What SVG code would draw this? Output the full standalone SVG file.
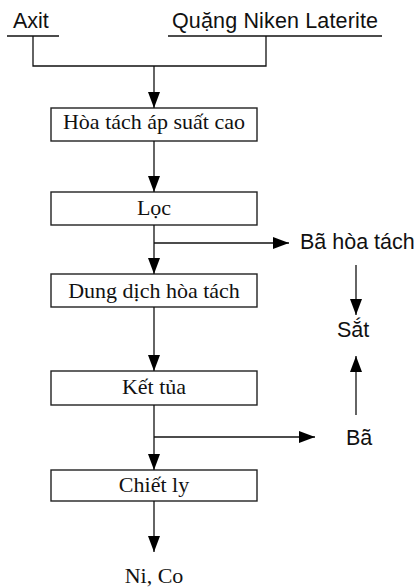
<svg xmlns="http://www.w3.org/2000/svg" width="415" height="588" viewBox="0 0 415 588">
<style>
.box{fill:#fff;stroke:#222;stroke-width:1.4}
.ln{fill:none;stroke:#111;stroke-width:1.3}
.serif{font-family:"Liberation Serif","Times New Roman",serif;font-size:22px;fill:#111;text-anchor:middle}
.sans{font-family:"Liberation Sans",Arial,sans-serif;font-size:21.5px;fill:#111}
</style>
<defs>
<marker id="ah" markerUnits="userSpaceOnUse" markerWidth="17" markerHeight="12" refX="16" refY="6" orient="auto">
<path d="M0,0 L16,6 L0,12 Z" fill="#000"/>
</marker>
</defs>
<rect width="415" height="588" fill="#fff"/>
<g id="axit"><text class="sans" x="13" y="28">Axit</text><line class="ln" x1="7" y1="36" x2="59" y2="36"/></g>
<g id="quang"><text class="sans" x="172" y="28" textLength="206">Quặng Niken Laterite</text><line class="ln" x1="168" y1="36" x2="382" y2="36"/></g>
<g id="hoatach"><rect class="box" x="51" y="108" width="206" height="33"/><text class="serif" x="154" y="129">Hòa tách áp suất cao</text></g>
<g id="loc"><rect class="box" x="51" y="192" width="206" height="33"/><text class="serif" x="154" y="215">Lọc</text></g>
<g id="dungdich"><rect class="box" x="51" y="274" width="206" height="33"/><text class="serif" x="154" y="298">Dung dịch hòa tách</text></g>
<g id="kettua"><rect class="box" x="51" y="371" width="206" height="34"/><text class="serif" x="154" y="394">Kết tủa</text></g>
<g id="chietly"><rect class="box" x="51" y="470" width="206" height="31"/><text class="serif" x="154" y="492">Chiết ly</text></g>
<g id="nico"><text class="serif" x="154" y="583">Ni, Co</text></g>
<g id="baht"><text class="sans" x="300" y="249">Bã hòa tách</text></g>
<g id="sat"><text class="sans" x="337" y="337">Sắt</text></g>
<g id="ba"><text class="sans" x="346" y="445">Bã</text></g>
<g id="connectors">
<polyline class="ln" points="33,36 33,66 266,66 266,36"/>
<line class="ln" x1="154" y1="66" x2="154" y2="108" marker-end="url(#ah)"/>
<line class="ln" x1="154" y1="141" x2="154" y2="192" marker-end="url(#ah)"/>
<line class="ln" x1="154" y1="225" x2="154" y2="274" marker-end="url(#ah)"/>
<line class="ln" x1="154" y1="243" x2="289" y2="243" marker-end="url(#ah)"/>
<line class="ln" x1="154" y1="307" x2="154" y2="371" marker-end="url(#ah)"/>
<line class="ln" x1="356" y1="265" x2="356" y2="315" marker-end="url(#ah)"/>
<line class="ln" x1="356" y1="415" x2="356" y2="356" marker-end="url(#ah)"/>
<line class="ln" x1="154" y1="405" x2="154" y2="470" marker-end="url(#ah)"/>
<line class="ln" x1="154" y1="437" x2="315" y2="437" marker-end="url(#ah)"/>
<line class="ln" x1="154" y1="501" x2="154" y2="552" marker-end="url(#ah)"/>
</g>
</svg>
